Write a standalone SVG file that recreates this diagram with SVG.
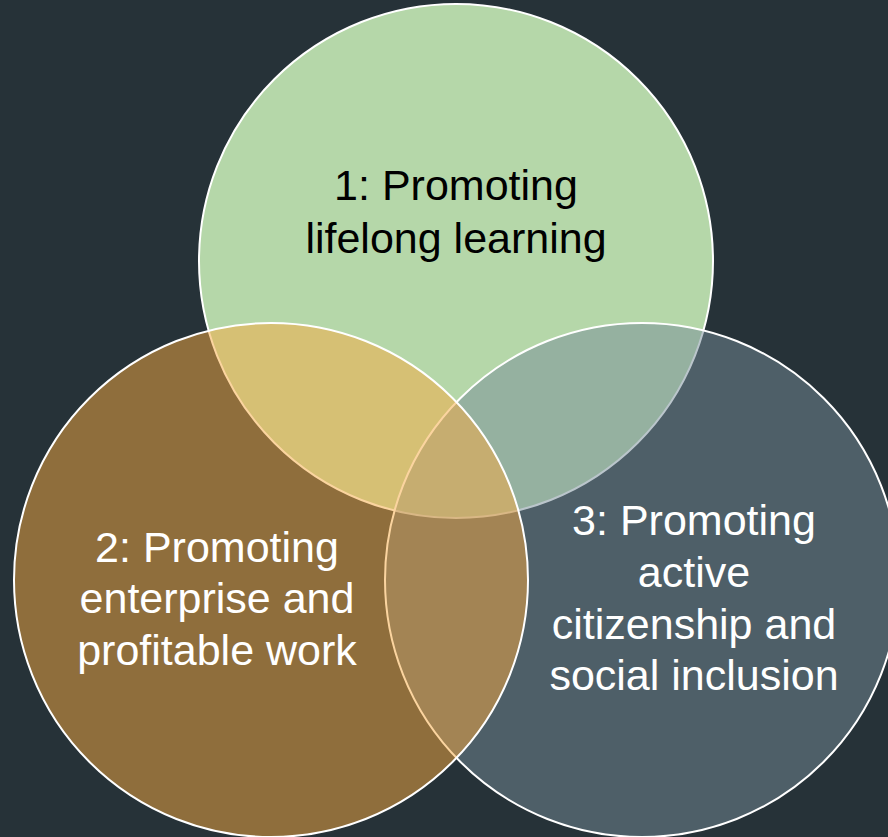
<svg xmlns="http://www.w3.org/2000/svg" width="888" height="837" viewBox="0 0 888 837">
<style>
.c{stroke:#ffffff;stroke-width:2}
.t{font-family:"Liberation Sans",Arial,sans-serif;font-size:43px;text-anchor:middle}
.dark{fill:#000000}
.light{fill:#ffffff}
</style>
<rect width="888" height="837" fill="#263238"/>
<g id="circle1">
<circle class="c" cx="456" cy="261" r="257" fill="#b5d7a9"/>
</g>
<g id="circle3">
<circle class="c" cx="642" cy="580" r="257" fill="#768c98" fill-opacity="0.5"/>
</g>
<g id="circle2">
<circle class="c" cx="271" cy="580" r="257" fill="#f8aa40" fill-opacity="0.5"/>
</g>
<g id="connectors"></g>
<g id="label1">
<text class="t dark" x="456" y="200">1: Promoting</text>
<text class="t dark" x="456" y="253">lifelong learning</text>
</g>
<g id="label2">
<text class="t light" x="217" y="562">2: Promoting</text>
<text class="t light" x="217" y="613">enterprise and</text>
<text class="t light" x="217" y="665">profitable work</text>
</g>
<g id="label3">
<text class="t light" x="694" y="535">3: Promoting</text>
<text class="t light" x="694" y="587">active</text>
<text class="t light" x="694" y="639">citizenship and</text>
<text class="t light" x="694" y="690">social inclusion</text>
</g>
</svg>
